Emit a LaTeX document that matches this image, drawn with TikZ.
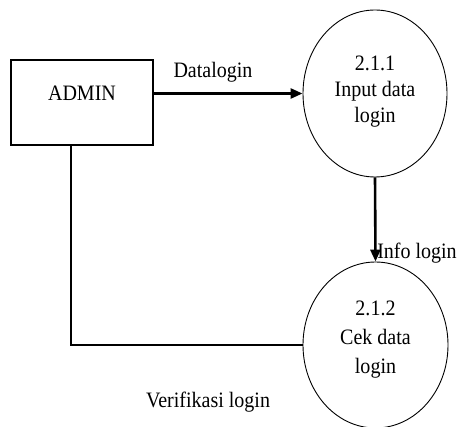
\documentclass[tikz,border=0pt]{standalone}
\usepackage{fontspec}
\setmainfont{Liberation Serif}[FakeStretch=0.91]
\usetikzlibrary{shapes.geometric,arrows.meta}
\begin{document}
\begin{tikzpicture}[x=1pt,y=-1pt,
  lbl/.style={font=\fontsize{22}{26}\selectfont, inner sep=0pt, align=center},
  proc/.style={draw, line width=0.9pt, ellipse, inner sep=0pt},
  flow/.style={line width=2.6pt},
  arr/.style={flow, -{Triangle[length=12pt,width=10pt]}}]
\useasboundingbox (0,0) rectangle (457,427);
\fill[white] (0,0) rectangle (457,427);
\node[draw, line width=1.2pt, minimum width=142pt, minimum height=85pt, inner sep=0pt] (admin) at (82,102.5) {};
\node[lbl] (admintxt) at (82,93) {ADMIN};
\node[proc, minimum width=144pt, minimum height=167pt] (c1) at (375,93.5) {};
\node[lbl] (c1txt) at (375,92) {2.1.1\\Input data\\login};
\node[proc, minimum width=145pt, minimum height=166pt] (c2) at (375.5,345) {};
\node[lbl, font=\fontsize{22}{29}\selectfont] (c2txt) at (375.5,340) {2.1.2\\Cek data\\login};
\coordinate (a1) at (71,145);
\draw[arr] (admin.east |- c1.west) -- (c1.west);
\draw[arr] (c1.south) -- (c2.north);
\draw[flow] (a1) |- (c2.west);
\node[lbl] (l1) at (213,72) {Datalogin};
\node[lbl] (l2) at (417,253) {Info login};
\node[lbl] (l3) at (208,402) {Verifikasi login};
\end{tikzpicture}
\end{document}
